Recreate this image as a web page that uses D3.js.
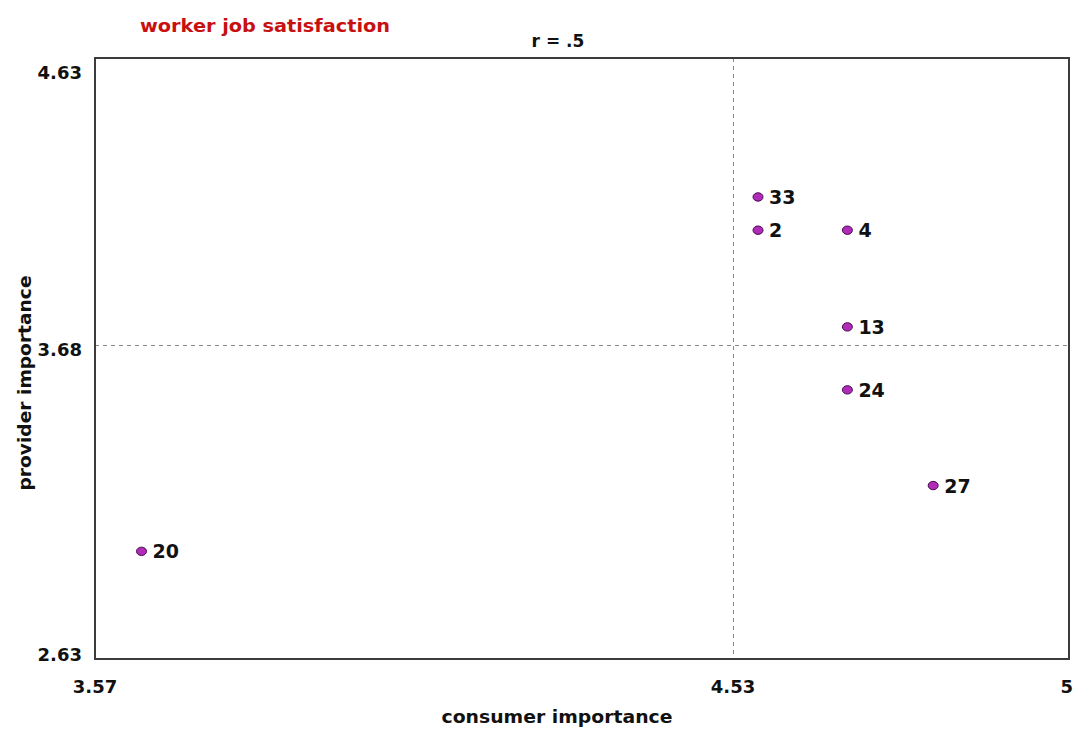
<!DOCTYPE html>
<html>
<head>
<meta charset="utf-8">
<script src="https://cdn.jsdelivr.net/npm/d3@7"></script>
<style>
  body { margin: 0; background: #fff; }
  svg { display: block; }
  text { font-family: "DejaVu Sans", Verdana, sans-serif; font-weight: bold; }
</style>
</head>
<body>
<svg id="chart" width="1076" height="730"></svg>
<script>
// ---- data ----
const ids = ["33", "2", "4", "13", "24", "27", "20"];
const consumer = [4.565, 4.565, 4.69, 4.69, 4.69, 4.81, 3.64];
const provider = [4.17, 4.06, 4.06, 3.74, 3.53, 3.21, 2.99];
const xTicks = [3.57, 4.53, 5];
const yTicks = [4.63, 3.68, 2.63];
const xTickLabels = ["3.57", "4.53", "5"];
const yTickLabels = ["4.63", "3.68", "2.63"];
const xMean = 4.53;
const yMean = 3.68;
const title = "worker job satisfaction";
const subtitle = "r = .5";
const xTitle = "consumer importance";
const yTitle = "provider importance";

// ---- layout ----
const L = 95, R = 1069, T = 58, B = 659;
const svg = d3.select("#chart");

const x = d3.scaleLinear().domain([xTicks[0], xMean, xTicks[2]]).range([L, 733, R]);
const y = d3.scaleLinear().domain([yTicks[0], yMean, yTicks[2]]).range([T, 345, B]);

// reference lines
svg.append("line")
  .attr("x1", Math.round(x(xMean)) + 0.5).attr("x2", Math.round(x(xMean)) + 0.5)
  .attr("y1", T).attr("y2", B)
  .attr("stroke", "#8a8a8a").attr("stroke-width", 1).attr("stroke-dasharray", "4,4");
svg.append("line")
  .attr("x1", L).attr("x2", R)
  .attr("y1", Math.round(y(yMean)) + 0.5).attr("y2", Math.round(y(yMean)) + 0.5)
  .attr("stroke", "#8a8a8a").attr("stroke-width", 1).attr("stroke-dasharray", "4,4");

// frame
svg.append("rect")
  .attr("x", L).attr("y", T).attr("width", R - L).attr("height", B - T)
  .attr("fill", "none").attr("stroke", "#3c3c3c").attr("stroke-width", 2);

// axis tick labels
svg.append("g").selectAll("text").data(xTicks).join("text")
  .attr("x", (d, i) => i === xTicks.length - 1 ? x(d) + 4 : x(d))
  .attr("y", 693)
  .attr("text-anchor", (d, i) => i === xTicks.length - 1 ? "end" : "middle")
  .attr("font-size", 18).attr("fill", "#111")
  .text((d, i) => xTickLabels[i]);

const yOff = [21, 11, 2];
svg.append("g").selectAll("text").data(yTicks).join("text")
  .attr("x", 82)
  .attr("y", (d, i) => y(d) + yOff[i])
  .attr("text-anchor", "end")
  .attr("font-size", 18).attr("fill", "#111")
  .text((d, i) => yTickLabels[i]);

// titles
svg.append("text").attr("x", 140).attr("y", 32)
  .attr("font-size", 18).attr("fill", "#c81010")
  .attr("textLength", 250).attr("lengthAdjust", "spacingAndGlyphs")
  .text(title);
svg.append("text").attr("x", 558).attr("y", 47).attr("text-anchor", "middle")
  .attr("font-size", 17).attr("fill", "#111").text(subtitle);
svg.append("text").attr("x", 557).attr("y", 723).attr("text-anchor", "middle")
  .attr("font-size", 18).attr("fill", "#111")
  .attr("textLength", 231).attr("lengthAdjust", "spacingAndGlyphs")
  .text(xTitle);
svg.append("text").attr("transform", "translate(31,383) rotate(-90)")
  .attr("text-anchor", "middle")
  .attr("font-size", 18).attr("fill", "#111")
  .attr("textLength", 215).attr("lengthAdjust", "spacingAndGlyphs")
  .text(yTitle);

// points
const pts = svg.append("g").selectAll("g").data(ids).join("g")
  .attr("transform", (d, i) => `translate(${x(consumer[i])},${y(provider[i])})`);
pts.append("ellipse").attr("rx", 5).attr("ry", 4.2)
  .attr("fill", "#b02cb8").attr("stroke", "#4a0850").attr("stroke-width", 1);
pts.append("text").attr("x", 11).attr("y", 7)
  .attr("font-size", 19).attr("fill", "#111")
  .text(d => d);
</script>
</body>
</html>
